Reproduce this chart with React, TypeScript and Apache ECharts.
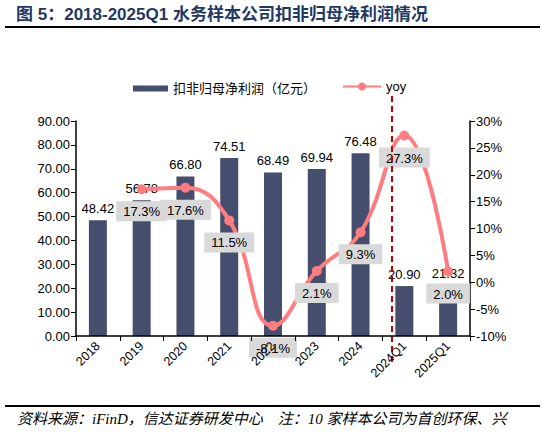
import React, { useEffect, useRef } from "react";
import * as echarts from "echarts";

const categories = ["2018", "2019", "2020", "2021", "2022", "2023", "2024", "2024Q1", "2025Q1"];
const profit = [48.42, 56.78, 66.8, 74.51, 68.49, 69.94, 76.48, 20.9, 21.32];
const yoy = [null, 17.3, 17.6, 11.5, -8.1, 2.1, 9.3, 27.3, 2.0];
const leftTicks = { min: 0, max: 90, interval: 10 };
const rightTicks = { min: -10, max: 30, interval: 5 };

const titleText = "图 5：2018-2025Q1 水务样本公司扣非归母净利润情况";
const sourceText = "资料来源：iFinD，信达证券研发中心　注：10 家样本公司为首创环保、兴";
const barName = "扣非归母净利润（亿元）";
const lineName = "yoy";

const FONT = '"Liberation Sans", Arial, "Noto Sans CJK SC", sans-serif';
const BAR_COLOR = "#454F6D";
const LINE_COLOR = "#FF7C80";

export default function App() {
  const ref = useRef<HTMLDivElement>(null);
  useEffect(() => {
    if (!ref.current) return;
    const chart = echarts.init(ref.current, null, { renderer: "svg" });
    chart.setOption({
      animation: false,
      backgroundColor: "#fff",
      textStyle: { fontFamily: FONT },
      grid: { left: 76, right: 75, top: 121, bottom: 99, containLabel: false },
      legend: [
        {
          data: [{ name: barName, icon: "rect" }],
          left: 128,
          top: 77,
          itemWidth: 35,
          itemHeight: 6,
          textStyle: { fontSize: 13, color: "#000", fontFamily: FONT },
        },
        {
          data: [lineName],
          left: 337,
          top: 75,
          itemWidth: 38,
          itemHeight: 10,
          textStyle: { fontSize: 13, color: "#000", fontFamily: FONT },
        },
      ],
      xAxis: {
        type: "category",
        data: categories,
        z: 10,
        axisLine: { lineStyle: { color: "#000", width: 1.5 } },
        axisTick: { show: true, length: 5, lineStyle: { color: "#000" } },
        axisLabel: { rotate: 45, interval: 0, fontSize: 12.5, color: "#000", margin: 8 },
      },
      yAxis: [
        {
          type: "value",
          min: leftTicks.min,
          max: leftTicks.max,
          interval: leftTicks.interval,
          splitLine: { show: false },
          axisLine: { show: true, lineStyle: { color: "#000", width: 1.5 } },
          axisTick: { show: true, length: 5, lineStyle: { color: "#000" } },
          axisLabel: { fontSize: 13, color: "#000", formatter: (v: number) => v.toFixed(2), margin: 6 },
        },
        {
          type: "value",
          min: rightTicks.min,
          max: rightTicks.max,
          interval: rightTicks.interval,
          splitLine: { show: false },
          axisLine: { show: true, lineStyle: { color: "#000", width: 1.5 } },
          axisTick: { show: true, length: 5, lineStyle: { color: "#000" } },
          axisLabel: { fontSize: 13, color: "#000", formatter: (v: number) => v + "%", margin: 6 },
        },
      ],
      series: [
        {
          name: barName,
          type: "bar",
          data: profit,
          barWidth: 18,
          itemStyle: { color: BAR_COLOR },
          z: 2,
          label: {
            show: true,
            position: "top",
            distance: 5,
            fontSize: 13,
            color: "#000",
            formatter: (p: any) => Number(p.value).toFixed(2),
          },
        },
        {
          name: lineName,
          type: "line",
          yAxisIndex: 1,
          data: yoy,
          smooth: 0.45,
          symbol: "circle",
          symbolSize: 10,
          connectNulls: false,
          lineStyle: { color: LINE_COLOR, width: 4 },
          itemStyle: { color: LINE_COLOR },
          z: 5,
          label: {
            show: true,
            position: "bottom",
            distance: 7,
            fontSize: 13,
            color: "#000",
            backgroundColor: "#D9D9D9",
            padding: [4, 7, 3, 7],
            formatter: (p: any) => Number(p.value).toFixed(1) + "%",
          },
        },
      ],
      graphic: [
        {
          type: "text",
          left: 16,
          top: 6,
          style: {
            text: titleText,
            font: 'bold 17px "Liberation Sans", Arial, "Noto Sans CJK SC", sans-serif',
            fill: "#1F3864",
          },
        },
        {
          type: "line",
          shape: { x1: 5, y1: 27, x2: 540, y2: 27 },
          style: { stroke: "#000", lineWidth: 2 },
        },
        {
          type: "line",
          shape: { x1: 392, y1: 96, x2: 392, y2: 364 },
          style: { stroke: "#C00000", lineWidth: 2, lineDash: [6, 4] },
          z: 10,
        },
        {
          type: "line",
          shape: { x1: 5, y1: 406, x2: 540, y2: 406 },
          style: { stroke: "#000", lineWidth: 2 },
        },
        {
          type: "text",
          left: 17,
          top: 411,
          style: {
            text: sourceText,
            font: 'italic 15px "Liberation Serif", "Noto Sans CJK SC", serif',
            fill: "#000",
          },
        },
      ],
    });
    return () => chart.dispose();
  }, []);
  return <div ref={ref} style={{ width: 545, height: 435, position: "absolute", left: 0, top: 0 }} />;
}
